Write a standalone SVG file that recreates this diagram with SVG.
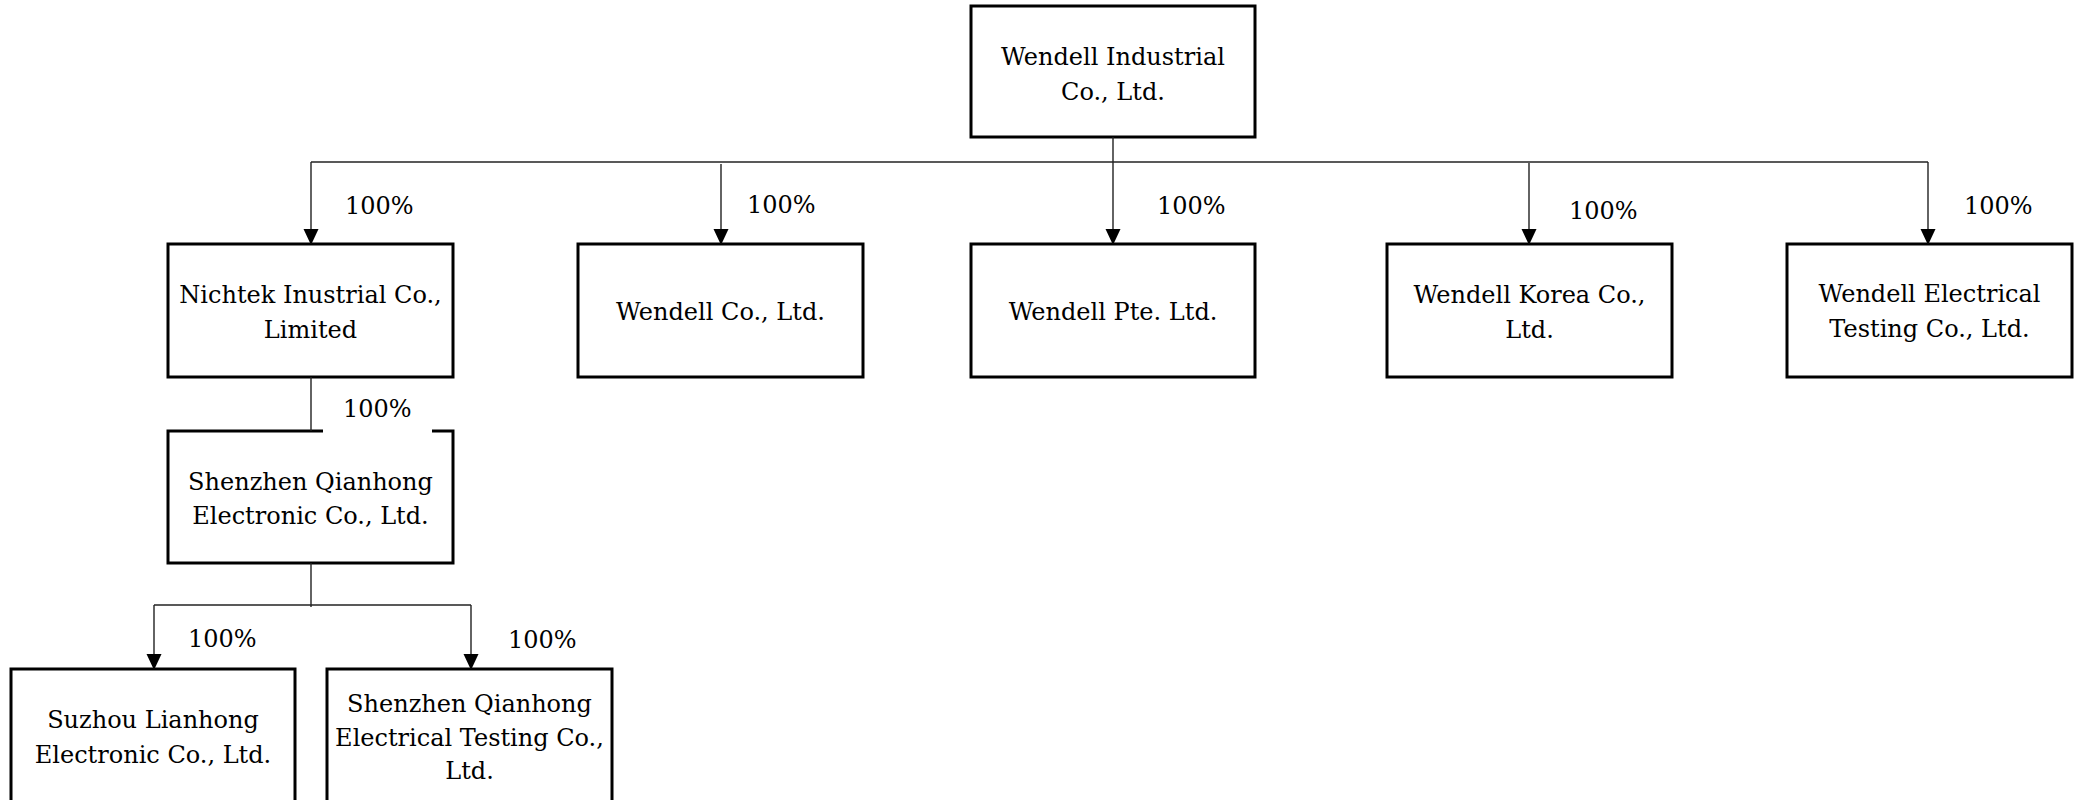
<svg xmlns="http://www.w3.org/2000/svg" width="2082" height="800" viewBox="0 0 2082 800">
<style>
.box{fill:#fff;stroke:#000;stroke-width:3}
.t{font-family:"DejaVu Serif","Liberation Serif",serif;font-size:24px;fill:#000;text-anchor:middle}
.p{font-family:"DejaVu Serif","Liberation Serif",serif;font-size:24px;fill:#000}
.ln{fill:none;stroke:#222;stroke-width:1.4}
.arr{marker-end:url(#ah)}
</style>
<defs>
<marker id="ah" markerUnits="userSpaceOnUse" markerWidth="16" markerHeight="16" viewBox="0 0 16 16" refX="15" refY="8" orient="auto">
<path d="M0,0.5 L16,8 L0,15.5 Z" fill="#000"/>
</marker>
</defs>
<rect width="2082" height="800" fill="#fff"/>
<g id="n-wendell-industrial">
<rect class="box" x="971" y="6" width="284" height="131"/>
<text class="t" x="1113" y="65">Wendell Industrial</text>
<text class="t" x="1113" y="100">Co., Ltd.</text>
</g>
<g id="n-nichtek">
<rect class="box" x="168" y="244" width="285" height="133"/>
<text class="t" x="310.5" y="303">Nichtek Inustrial Co.,</text>
<text class="t" x="310.5" y="338">Limited</text>
</g>
<g id="n-wendell-co">
<rect class="box" x="578" y="244" width="285" height="133"/>
<text class="t" x="720.5" y="320">Wendell Co., Ltd.</text>
</g>
<g id="n-wendell-pte">
<rect class="box" x="971" y="244" width="284" height="133"/>
<text class="t" x="1113" y="320">Wendell Pte. Ltd.</text>
</g>
<g id="n-wendell-korea">
<rect class="box" x="1387" y="244" width="285" height="133"/>
<text class="t" x="1529.5" y="303">Wendell Korea Co.,</text>
<text class="t" x="1529.5" y="338">Ltd.</text>
</g>
<g id="n-wendell-electrical">
<rect class="box" x="1787" y="244" width="285" height="133"/>
<text class="t" x="1929.5" y="302">Wendell Electrical</text>
<text class="t" x="1929.5" y="337">Testing Co., Ltd.</text>
</g>
<g id="n-shenzhen-electronic">
<rect class="box" x="168" y="431" width="285" height="132"/>
<text class="t" x="310.5" y="490">Shenzhen Qianhong</text>
<text class="t" x="310.5" y="524">Electronic Co., Ltd.</text>
</g>
<g id="n-suzhou">
<rect class="box" x="11" y="669" width="284" height="134"/>
<text class="t" x="153" y="728">Suzhou Lianhong</text>
<text class="t" x="153" y="763">Electronic Co., Ltd.</text>
</g>
<g id="n-shenzhen-testing">
<rect class="box" x="327" y="669" width="285" height="134"/>
<text class="t" x="469.5" y="712">Shenzhen Qianhong</text>
<text class="t" x="469.5" y="746">Electrical Testing Co.,</text>
<text class="t" x="469.5" y="779">Ltd.</text>
</g>
<g id="connectors">
<path class="ln" d="M311 162 H1928"/>
<path class="ln arr" d="M1113 137 V244"/>
<path class="ln arr" d="M311 162 V244"/>
<path class="ln arr" d="M721 164 V244"/>
<path class="ln arr" d="M1529 163 V244"/>
<path class="ln arr" d="M1928 162 V244"/>
<path class="ln" d="M311 377 V431"/>
<path class="ln" d="M311 563 V607"/>
<path class="ln" d="M154 605 H471"/>
<path class="ln arr" d="M154 605 V669"/>
<path class="ln arr" d="M471 605 V669"/>
<text class="p" x="345" y="214">100%</text>
<text class="p" x="747" y="213">100%</text>
<text class="p" x="1157" y="214">100%</text>
<text class="p" x="1569" y="219">100%</text>
<text class="p" x="1964" y="214">100%</text>
<rect x="323" y="395" width="109" height="38" fill="#fff"/>
<text class="p" x="343" y="417">100%</text>
<text class="p" x="188" y="647">100%</text>
<text class="p" x="508" y="648">100%</text>
</g>
</svg>
